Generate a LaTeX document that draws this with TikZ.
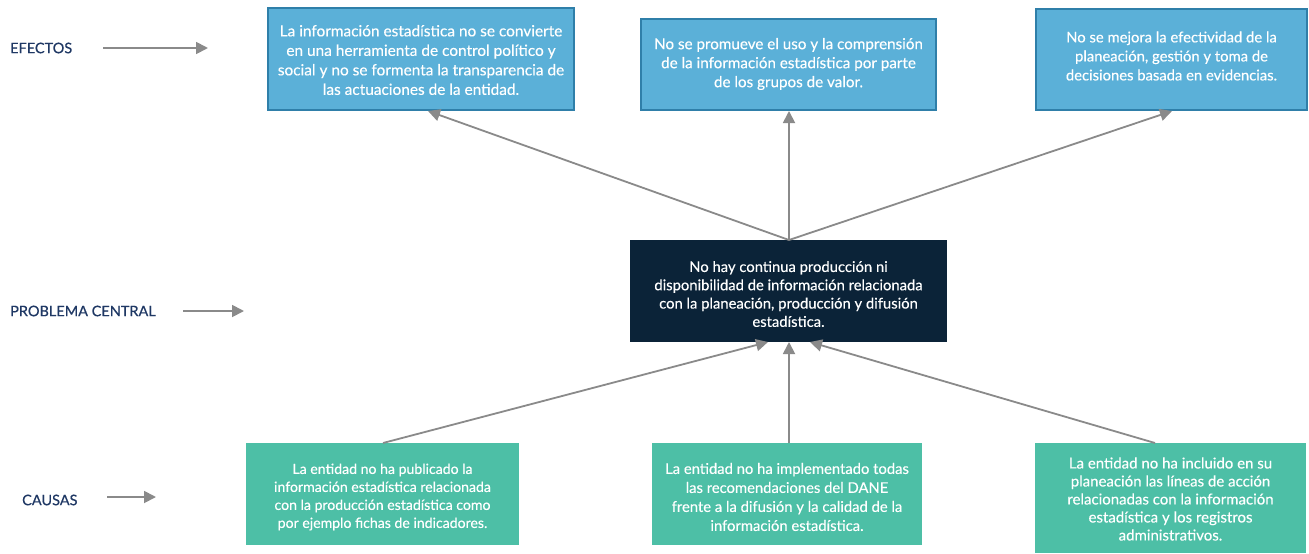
\documentclass[tikz,border=0pt]{standalone}
\usepackage{fontspec}
\setmainfont{Lato}
\newfontfamily\lblfont{Lato}[FakeBold=0.6]
\newfontfamily\boxfont{Lato}[FakeBold=0.3]
\usetikzlibrary{arrows.meta}
\definecolor{efblue}{HTML}{5BB0D8}
\definecolor{efborder}{HTML}{2F7FA9}
\definecolor{navy}{HTML}{0B2338}
\definecolor{teal}{HTML}{4DBFA6}
\definecolor{lblcol}{HTML}{1F3864}
\definecolor{arrgray}{HTML}{8A8A8A}
\tikzset{
  x=1pt, y=-1pt,
  effbox/.style={draw=efborder, line width=1.2pt, fill=efblue},
  probbox/.style={fill=navy},
  causebox/.style={fill=teal},
  lbl/.style={text=lblcol, anchor=west, inner sep=0pt, font=\lblfont\fontsize{14.5}{17}\selectfont},
  conn/.style={draw=arrgray, line width=1.8pt, -{Triangle[length=12pt,width=12pt]}},
  txt/.style={text=white, align=center, inner sep=0pt}
}
\begin{document}
\begin{tikzpicture}
\useasboundingbox (0,0) rectangle (1309,554);
% effects
\path[effbox] (268,8) rectangle (574,110);
\node[txt, font=\boxfont\fontsize{15.4}{19.5}\selectfont] (e1) at (421,60) {La información estadística no se convierte\\en una herramienta de control político y\\social y no se formenta la transparencia de\\las actuaciones de la entidad.};
\coordinate (e1b) at (428,111);
\path[effbox] (641,19) rectangle (936,110);
\node[txt, font=\boxfont\fontsize{15.2}{19}\selectfont] (e2) at (788.5,64) {No se promueve el uso y la comprensión\\de la información estadística por parte\\de los grupos de valor.};
\coordinate (e2b) at (789,111);
\path[effbox] (1036,9) rectangle (1307,110);
\node[txt, font=\boxfont\fontsize{14.8}{19}\selectfont] (e3) at (1171.5,56) {No se mejora la efectividad de la\\planeación, gestión y toma de\\decisiones basada en evidencias.};
\coordinate (e3b) at (1172,111);

% central problem
\path[probbox] (630,240) rectangle (947,342);
\node[txt, font=\boxfont\fontsize{14.8}{18.3}\selectfont] (p) at (788.5,294) {No hay continua producción ni\\disponibilidad de información relacionada\\con la planeación, producción y difusión\\estadística.};
\coordinate (pt) at (789,240);
\coordinate (pb1) at (768,342);
\coordinate (pb2) at (789,342);
\coordinate (pb3) at (810,342);

% causes
\path[causebox] (246,443) rectangle (519,545);
\node[txt, font=\boxfont\fontsize{14.1}{18}\selectfont] (c1) at (382.5,497) {La entidad no ha publicado la\\información estadística relacionada\\con la producción estadística como\\por ejemplo fichas de indicadores.};
\coordinate (c1t) at (383,443);
\path[causebox] (652,443) rectangle (922,545);
\node[txt, font=\boxfont\fontsize{14.8}{19}\selectfont] (c2) at (787,497) {La entidad no ha implementado todas\\las recomendaciones del DANE\\frente a la difusión y la calidad de la\\información estadística.};
\coordinate (c2t) at (789,443);
\path[causebox] (1035,443) rectangle (1306,553);
\node[txt, font=\boxfont\fontsize{15}{18}\selectfont] (c3) at (1170.5,499) {La entidad no ha incluido en su\\planeación las líneas de acción\\relacionadas con la información\\estadística y los registros\\administrativos.};
\coordinate (c3t) at (1155,443);

% connectors
\draw[conn] (pt) -- (e1b);
\draw[conn] (pt) -- (e2b);
\draw[conn] (pt) -- (e3b);
\draw[conn] (c1t) -- (pb1);
\draw[conn] (c2t) -- (pb2);
\draw[conn] (c3t) -- (pb3);

% row labels
\node[lbl] (l1) at (10,48) {EFECTOS};
\coordinate (a1s) at (103,48);
\coordinate (a1e) at (208,48);
\draw[conn] (a1s) -- (a1e);
\node[lbl] (l2) at (10,311) {PROBLEMA CENTRAL};
\coordinate (a2s) at (183,311);
\coordinate (a2e) at (244,311);
\draw[conn] (a2s) -- (a2e);
\node[lbl] (l3) at (22,500) {CAUSAS};
\coordinate (a3s) at (107,497);
\coordinate (a3e) at (156,497);
\draw[conn] (a3s) -- (a3e);
\end{tikzpicture}
\end{document}
